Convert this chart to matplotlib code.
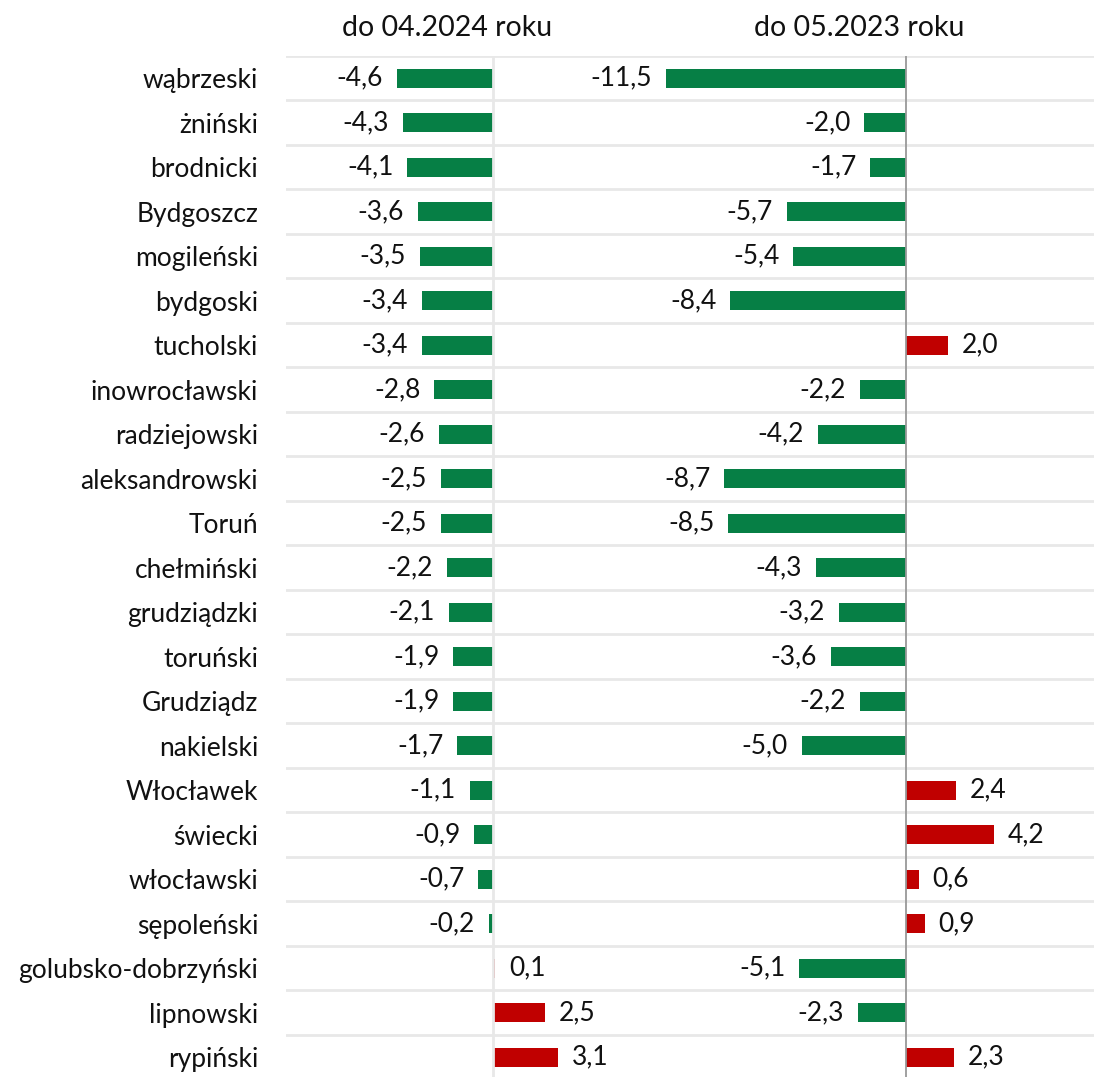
import numpy as np
import matplotlib.pyplot as plt

plt.rcParams['font.family'] = ['Lato', 'DejaVu Sans']

# data
powiaty = ['wąbrzeski', 'żniński', 'brodnicki', 'Bydgoszcz', 'mogileński', 'bydgoski',
           'tucholski', 'inowrocławski', 'radziejowski', 'aleksandrowski', 'Toruń',
           'chełmiński', 'grudziądzki', 'toruński', 'Grudziądz', 'nakielski', 'Włocławek',
           'świecki', 'włocławski', 'sępoleński', 'golubsko-dobrzyński', 'lipnowski', 'rypiński']
zmiana_2024 = [-4.6, -4.3, -4.1, -3.6, -3.5, -3.4, -3.4, -2.8, -2.6, -2.5, -2.5, -2.2,
               -2.1, -1.9, -1.9, -1.7, -1.1, -0.9, -0.7, -0.2, 0.1, 2.5, 3.1]
zmiana_2023 = [-11.5, -2.0, -1.7, -5.7, -5.4, -8.4, 2.0, -2.2, -4.2, -8.7, -8.5, -4.3,
               -3.2, -3.6, -2.2, -5.0, 2.4, 4.2, 0.6, 0.9, -5.1, -2.3, 2.3]
tytuly = ['do 04.2024 roku', 'do 05.2023 roku']

ZIELONY = '#067F45'
CZERWONY = '#C00000'
W, H = 1094, 1077
fig = plt.figure(figsize=(W / 100, H / 100), dpi=100)

n = len(powiaty)
y = np.arange(n)
top = 56
bottom = top + n * 44.5
px = 20.9  # px per unit
FS = 19

def dodaj_panel(x0, x1, zero, wartosci, os_kolor, os_lw, tytul, tx):
    ax = fig.add_axes([x0 / W, 1 - bottom / H, (x1 - x0) / W, (bottom - top) / H])
    ax.set_xlim(-(zero - x0) / px, (x1 - zero) / px)
    ax.set_ylim(n - 0.5, -0.5)
    kolory = [ZIELONY if v < 0 else CZERWONY for v in wartosci]
    ax.barh(y, wartosci, height=0.43, color=kolory, zorder=3)
    for yi, v in zip(y, wartosci):
        lab = f'{v:.1f}'.replace('.', ',')
        if v < 0:
            ax.annotate(lab, (v, yi), xytext=(-10, 0), textcoords='offset points',
                        ha='right', va='center', fontsize=FS, color='#111111')
        else:
            ax.annotate(lab, (v, yi), xytext=(10, 0), textcoords='offset points',
                        ha='left', va='center', fontsize=FS, color='#111111')
    for g in np.arange(-0.5, n, 1.0):
        ax.axhline(g, color='#E8E8E8', lw=2, zorder=1)
    ax.axvline(0, color=os_kolor, lw=os_lw, zorder=4)
    for s in ax.spines.values():
        s.set_visible(False)
    ax.set_xticks([])
    ax.set_yticks([])
    ax.patch.set_alpha(0)
    fig.text(tx / W, 1 - 28 / H, tytul, ha='center', va='center', fontsize=20.5, color='#111111')
    return ax

ax1 = dodaj_panel(286, 580, 493, zmiana_2024, '#E8E8E8', 2, tytuly[0], 447)
ax1.set_yticks(y)
ax1.set_yticklabels(powiaty, fontsize=FS, color='#111111')
ax1.tick_params(axis='y', length=0, pad=20)
ax2 = dodaj_panel(580, 1100, 906, zmiana_2023, '#999999', 1.3, tytuly[1], 859)

fig.savefig('out.png', dpi=100)
